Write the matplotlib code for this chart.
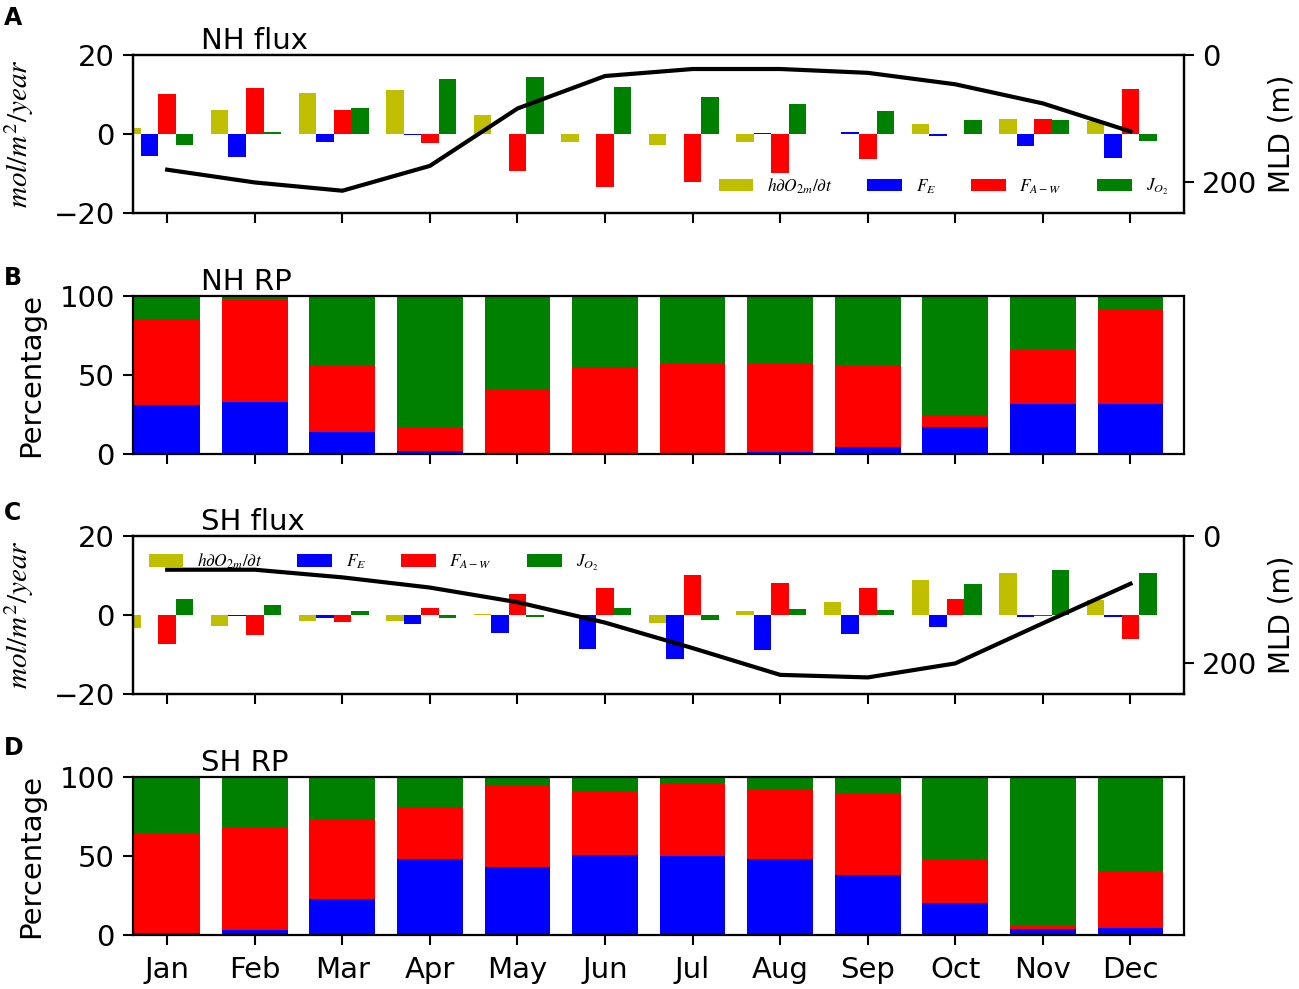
import matplotlib
matplotlib.use('Agg')
import matplotlib.pyplot as plt
import numpy as np

plt.rcParams['mathtext.fontset'] = 'stix'
plt.rcParams['font.size'] = 21

months = ['Jan', 'Feb', 'Mar', 'Apr', 'May', 'Jun', 'Jul', 'Aug', 'Sep', 'Oct', 'Nov', 'Dec']

# NH fluxes (mol/m2/year)
nh_dodt = [1.4, 6.1, 10.4, 11.2, 4.9, -1.9, -2.9, -2.1, 0.1, 2.5, 3.9, 3.2]
nh_fe = [-5.6, -5.9, -2.1, -0.3, -0.1, -0.1, -0.1, 0.3, 0.5, -0.6, -3.1, -6.0]
nh_faw = [10.2, 11.7, 6.1, -2.3, -9.4, -13.4, -12.2, -9.8, -6.2, -0.1, 3.9, 11.4]
nh_jo2 = [-2.9, 0.5, 6.5, 13.9, 14.5, 11.8, 9.3, 7.7, 5.7, 3.6, 3.6, -1.8]
nh_mld = [180, 200, 213, 174, 84, 33, 22, 22, 28, 46, 76, 120]

# SH fluxes
sh_dodt = [-3.4, -2.8, -1.6, -1.6, 0.2, 0.0, -2.1, 0.9, 3.3, 8.9, 10.7, 3.8]
sh_fe = [-0.1, -0.3, -0.8, -2.4, -4.6, -8.5, -11.1, -8.8, -4.8, -3.0, -0.4, -0.6]
sh_faw = [-7.4, -5.1, -1.8, 1.7, 5.4, 6.8, 10.0, 8.1, 6.7, 4.1, -0.3, -6.0]
sh_jo2 = [4.1, 2.5, 0.9, -0.8, -0.6, 1.7, -1.3, 1.5, 1.3, 7.9, 11.4, 10.5]
sh_mld = [53, 53, 65, 81, 104, 136, 176, 218, 222, 200, 137, 75]

# relative percentages
nh_rp_fe = [31.1, 33.0, 14.2, 2.1, 0.0, 0.0, 0.0, 1.0, 4.2, 17.4, 31.4, 31.4]
nh_rp_faw = [53.6, 64.9, 41.9, 14.9, 40.5, 54.4, 57.2, 56.2, 51.3, 6.8, 35.1, 60.1]
nh_rp_jo2 = [15.3, 2.1, 43.9, 83.0, 59.5, 45.6, 42.8, 42.8, 44.5, 75.8, 33.5, 8.5]

sh_rp_fe = [1.5, 3.2, 22.9, 47.9, 42.8, 50.8, 50.0, 47.9, 37.9, 20.3, 4.0, 4.2]
sh_rp_faw = [63.1, 65.0, 49.8, 33.2, 52.1, 40.3, 45.3, 44.3, 52.1, 27.4, 1.9, 35.4]
sh_rp_jo2 = [35.4, 31.8, 27.3, 18.9, 5.1, 8.9, 4.7, 7.8, 10.0, 52.3, 94.1, 60.4]

labels = [r'$h\partial O_{2m}/\partial t$', r'$F_E$', r'$F_{A-W}$', r'$J_{O_2}$']
cols = ['y', 'b', 'r', 'g']

x = np.arange(12)
fig = plt.figure(figsize=(12.99, 9.89), dpi=100)

L, W, H = 0.1024, 0.809, 0.1598
bottoms = [0.7846, 0.5409, 0.2983, 0.0546]
axs = [fig.add_axes([L, b, W, H]) for b in bottoms]


def style(ax):
    for s in ax.spines.values():
        s.set_linewidth(1.6)
    ax.tick_params(length=7, width=1.5)
    ax.tick_params(axis='y', pad=6)
    ax.tick_params(axis='x', pad=8)
    ax.set_xlim(-0.39, 11.61)
    ax.set_xticks(x)


def flux_panel(ax, data, mld, title, loc):
    w = 0.2
    offs = [-0.4, -0.2, 0.0, 0.2]
    for d, o, c, lab in zip(data, offs, cols, labels):
        ax.bar(x + o, d, width=w, color=c, label=lab)
    ax.set_ylim(-20, 20)
    ax.set_yticks([-20, 0, 20])
    style(ax)
    ax.set_xticklabels([])
    ax.set_ylabel(r'$mol/m^2/year$', fontsize=21)
    ax.yaxis.set_label_coords(-0.092, 0.5)
    ax.text(0.065, 1.0, title, transform=ax.transAxes, va='bottom', ha='left')
    ax.legend(loc=loc, ncol=4, frameon=False, fontsize=12.5)
    ax2 = ax.twinx()
    ax2.plot(x, mld, color='k', lw=3)
    ax2.set_ylim(248, 0)
    ax2.set_yticks([0, 200])
    ax2.tick_params(length=7, width=1.5, pad=6)
    ax2.set_ylabel('MLD (m)', fontsize=20)
    ax2.yaxis.set_label_coords(1.08, 0.5)
    for s in ax2.spines.values():
        s.set_linewidth(1.6)


def rp_panel(ax, fe, faw, jo2, title):
    fe = np.array(fe)
    faw = np.array(faw)
    jo2 = np.array(jo2)
    ax.bar(x, fe, width=0.75, color='b')
    ax.bar(x, faw, width=0.75, bottom=fe, color='r')
    ax.bar(x, jo2, width=0.75, bottom=fe + faw, color='g')
    ax.set_ylim(0, 100)
    ax.set_yticks([0, 50, 100])
    style(ax)
    ax.set_ylabel('Percentage')
    ax.yaxis.set_label_coords(-0.084, 0.5)
    ax.text(0.065, 1.0, title, transform=ax.transAxes, va='bottom', ha='left')


flux_panel(axs[0], [nh_dodt, nh_fe, nh_faw, nh_jo2], nh_mld, 'NH flux', 'lower right')
rp_panel(axs[1], nh_rp_fe, nh_rp_faw, nh_rp_jo2, 'NH RP')
axs[1].set_xticklabels([])
flux_panel(axs[2], [sh_dodt, sh_fe, sh_faw, sh_jo2], sh_mld, 'SH flux', 'upper left')
rp_panel(axs[3], sh_rp_fe, sh_rp_faw, sh_rp_jo2, 'SH RP')
axs[3].set_xticklabels(months)

for lab, yy in zip('ABCD', [0.994, 0.731, 0.493, 0.256]):
    fig.text(0.003, yy, lab, fontsize=17, fontweight='bold', va='top', ha='left')

fig.savefig('out.png', dpi=100)
